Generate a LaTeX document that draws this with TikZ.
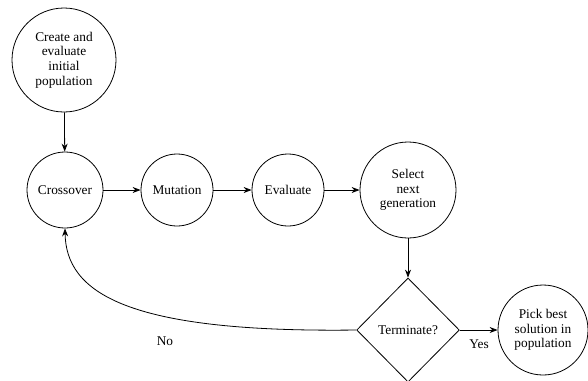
\documentclass[tikz,border=0pt]{standalone}
\usepackage{fontspec}
\setmainfont{Liberation Serif}
\usetikzlibrary{shapes.geometric,arrows.meta}
\begin{document}
\begin{tikzpicture}[x=0.75pt,y=-0.75pt,
  every node/.style={font=\fontsize{10}{10.9}\selectfont},
  stage/.style={circle,draw,line width=0.6pt,align=center,inner sep=0pt},
  decide/.style={diamond,draw,line width=0.6pt,align=center,inner sep=0pt,minimum width=77pt,minimum height=78pt},
  flow/.style={-{Stealth[length=6pt,width=4.5pt]},line width=0.6pt},
  lbl/.style={inner sep=1pt}]
\useasboundingbox (0,0) rectangle (588,380);
\node[stage,minimum size=78pt] (create) at (64,60) {Create and\\evaluate\\initial\\population};
\node[stage,minimum size=57pt] (cross) at (65,190) {Crossover};
\node[stage,minimum size=54pt] (mut) at (177,190) {Mutation};
\node[stage,minimum size=54pt] (eval) at (288,190) {Evaluate};
\node[stage,minimum size=72pt] (sel) at (408,190) {Select\\next\\generation};
\node[decide] (term) at (408,330) {Terminate?};
\node[stage,minimum size=67.5pt] (pick) at (543,330) {Pick best\\solution in\\population};
\draw[flow] (create) -- (cross);
\draw[flow] (cross) -- (mut);
\draw[flow] (mut) -- (eval);
\draw[flow] (eval) -- (sel);
\draw[flow] (sel) -- (term);
\draw[flow] (term) -- (pick);
\draw[flow] (term.west) .. controls (125,333) and (66,292) .. (cross.south);
\node[lbl] (no) at (165,341) {No};
\node[lbl] (yes) at (479,344) {Yes};
\end{tikzpicture}
\end{document}
